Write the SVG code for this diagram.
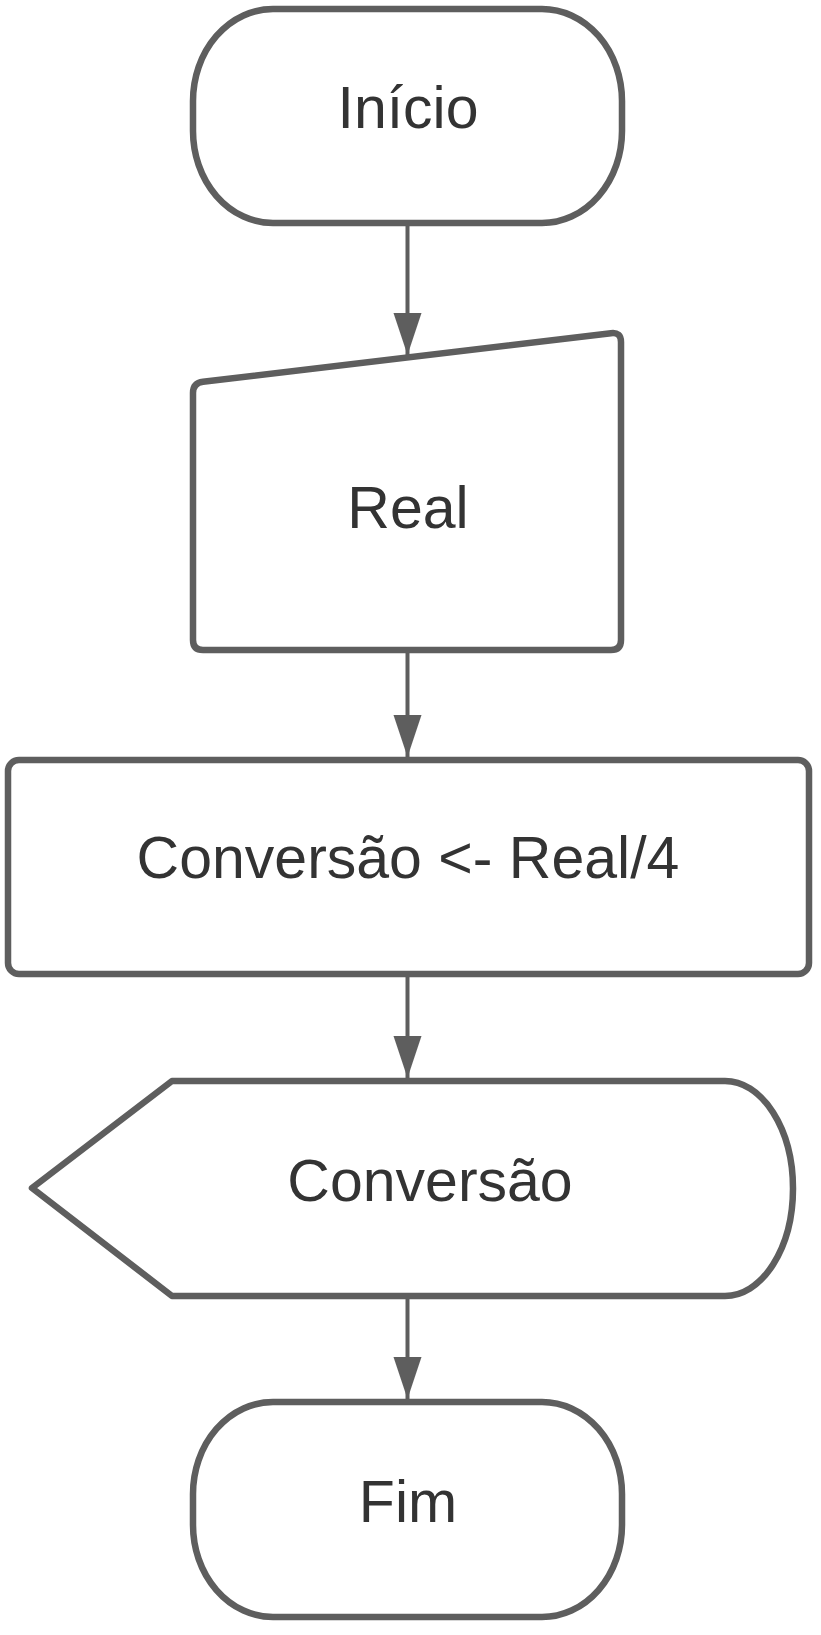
<svg xmlns="http://www.w3.org/2000/svg" width="821" height="1635" viewBox="0 0 821 1635">
  <style>
    .node { fill: #ffffff; stroke: #5e5e5e; stroke-width: 6.5; stroke-linejoin: round; }
    .label { font-family: "Liberation Sans", Arial, sans-serif; font-size: 59px; fill: #333333; text-anchor: middle; }
    .edge { stroke: #5e5e5e; stroke-width: 4; fill: none; }
  </style>
  <defs>
    <marker id="arrow" markerUnits="userSpaceOnUse" markerWidth="42" markerHeight="30" refX="42" refY="15" orient="auto" viewBox="0 0 42 30">
      <path d="M0,1 L42,15 L0,29 Z" fill="#5e5e5e"/>
    </marker>
  </defs>
  <rect width="821" height="1635" fill="#ffffff"/>

  <g id="connectors">
    <line class="edge" x1="407.5" y1="223" x2="407.5" y2="355" marker-end="url(#arrow)"/>
    <line class="edge" x1="407.5" y1="650" x2="407.5" y2="757" marker-end="url(#arrow)"/>
    <line class="edge" x1="407.5" y1="974" x2="407.5" y2="1078" marker-end="url(#arrow)"/>
    <line class="edge" x1="407.5" y1="1296" x2="407.5" y2="1399" marker-end="url(#arrow)"/>
  </g>

  <g id="inicio">
    <rect class="node" x="193" y="9" width="429" height="214" rx="80" ry="92"/>
    <text class="label" x="408" y="128">Início</text>
  </g>

  <g id="real">
    <path class="node" d="M193,393 Q193,383 203,381.8 L611,333.2 Q621,332 621,342 L621,640 Q621,650 611,650 L203,650 Q193,650 193,640 Z"/>
    <text class="label" x="408" y="528">Real</text>
  </g>

  <g id="conversao-calc">
    <rect class="node" x="8" y="760" width="801" height="214" rx="11" ry="11"/>
    <text class="label" x="408" y="878">Conversão &lt;- Real/4</text>
  </g>

  <g id="conversao-saida">
    <path class="node" d="M172,1081 L725,1081 A68,107.5 0 0 1 725,1296 L172,1296 L32,1188 Z"/>
    <text class="label" x="430" y="1201">Conversão</text>
  </g>

  <g id="fim">
    <rect class="node" x="193" y="1402" width="429" height="215" rx="80" ry="92"/>
    <text class="label" x="408" y="1522">Fim</text>
  </g>
</svg>
